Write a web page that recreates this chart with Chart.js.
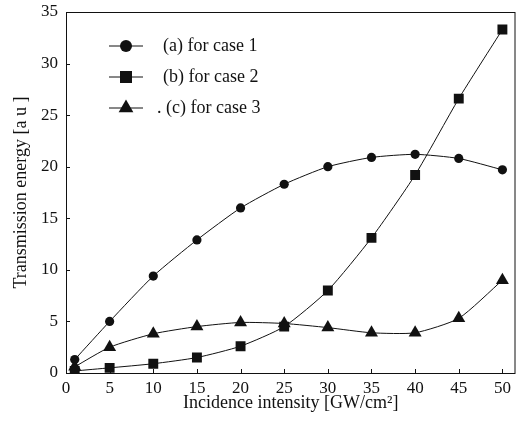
<!DOCTYPE html>
<html>
<head>
<meta charset="utf-8">
<script src="https://cdn.jsdelivr.net/npm/chart.js@4"></script>
<style>
  html, body { margin: 0; padding: 0; background: #fff; }
  #wrap { width: 523px; height: 427px; }
</style>
</head>
<body>
<div id="wrap"><canvas id="myChart" width="523" height="427"></canvas></div>
<script>
// values
const intensity = [1, 5, 10, 15, 20, 25, 30, 35, 40, 45, 50];
const case1 = [1.3, 5.0, 9.4, 12.9, 16.0, 18.3, 20.0, 20.9, 21.2, 20.8, 19.7];
const case2 = [0.2, 0.5, 0.9, 1.5, 2.6, 4.5, 8.0, 13.1, 19.2, 26.6, 33.3];
const case3 = [0.6, 2.5, 3.8, 4.5, 4.9, 4.8, 4.4, 3.9, 3.9, 5.3, 9.0];
const labels = ['(a) for case 1', '(b) for case 2', '. (c) for case 3'];
const xTicks = [0, 5, 10, 15, 20, 25, 30, 35, 40, 45, 50];
const yTicks = [0, 5, 10, 15, 20, 25, 30, 35];

const ink = '#111';
Chart.defaults.font.family = 'Liberation Serif, DejaVu Serif, Noto Serif, serif';
Chart.defaults.color = ink;

function pts(ys) {
    return intensity.map((x, i) => ({ x: x, y: ys[i] }));
}

function series(label, ys, style, radius) {
    return {
        label: label,
        data: pts(ys),
        borderColor: ink,
        backgroundColor: ink,
        borderWidth: 1,
        tension: 0.2,
        pointStyle: style,
        pointRadius: radius,
        pointHoverRadius: radius,
        pointBorderWidth: 0
    };
}

// box, inward ticks and the legend inside the plot
const frame = {
    id: 'frame',
    afterDraw(chart) {
        const ctx = chart.ctx;
        const a = chart.chartArea;
        const xs = chart.scales.x, ys = chart.scales.y;
        ctx.save();
        ctx.strokeStyle = ink;
        ctx.lineWidth = 1;
        ctx.strokeRect(a.left + 0.5, a.top + 0.5, a.right - a.left - 1, a.bottom - a.top);
        ctx.beginPath();
        xTicks.forEach(v => {
            const px = Math.round(xs.getPixelForValue(v)) + 0.5;
            ctx.moveTo(px, a.bottom);
            ctx.lineTo(px, a.bottom - 4);
        });
        yTicks.forEach(v => {
            const py = Math.round(ys.getPixelForValue(v)) + 0.5;
            ctx.moveTo(a.left, py);
            ctx.lineTo(a.left + 4, py);
        });
        ctx.stroke();

        // legend
        ctx.font = '18px ' + Chart.defaults.font.family;
        ctx.fillStyle = ink;
        ctx.textBaseline = 'middle';
        const legendRadius = [6, 8.5, 8.5];
        chart.data.datasets.forEach((ds, i) => {
            const y = a.top + 34 + i * 31;
            const x0 = a.left + 43;
            ctx.beginPath();
            ctx.moveTo(x0, y);
            ctx.lineTo(x0 + 34, y);
            ctx.stroke();
            Chart.helpers.drawPoint(ctx, {
                pointStyle: ds.pointStyle,
                radius: legendRadius[i],
                borderWidth: 0
            }, x0 + 17, y);
            ctx.fillText(ds.label, x0 + (i === 2 ? 48 : 54), y);
        });
        ctx.restore();
    }
};

const ctx = document.getElementById('myChart').getContext('2d');
const chart = new Chart(ctx, {
    type: 'line',
    data: {
        datasets: [
            series(labels[0], case1, 'circle', 4.6),
            series(labels[1], case2, 'rect', 7),
            series(labels[2], case3, 'triangle', 7.5)
        ]
    },
    options: {
        responsive: false,
        animation: false,
        layout: { padding: { top: 12, right: 2, left: 0, bottom: 13 } },
        plugins: {
            legend: { display: false },
            tooltip: { enabled: false }
        },
        scales: {
            x: {
                type: 'linear',
                min: 0,
                max: 51.5,
                afterBuildTicks: s => { s.ticks = xTicks.map(v => ({ value: v })); },
                afterFit: s => { s.height = 41; },
                grid: { display: false },
                border: { display: false },
                ticks: { font: { size: 17 }, padding: -3, maxRotation: 0 },
                title: {
                    display: true,
                    text: 'Incidence intensity [GW/cm²]',
                    font: { size: 18 },
                    padding: { top: 0, bottom: 0 }
                }
            },
            y: {
                min: 0,
                max: 35,
                afterBuildTicks: s => { s.ticks = yTicks.map(v => ({ value: v })); },
                afterFit: s => { s.width = 66; },
                grid: { display: false },
                border: { display: false },
                ticks: { font: { size: 17 }, padding: 0 },
                title: {
                    display: true,
                    text: 'Transmission energy [a u ]',
                    font: { size: 18 },
                    padding: { top: 10, bottom: 0 }
                }
            }
        }
    },
    plugins: [frame]
});
</script>
</body>
</html>
